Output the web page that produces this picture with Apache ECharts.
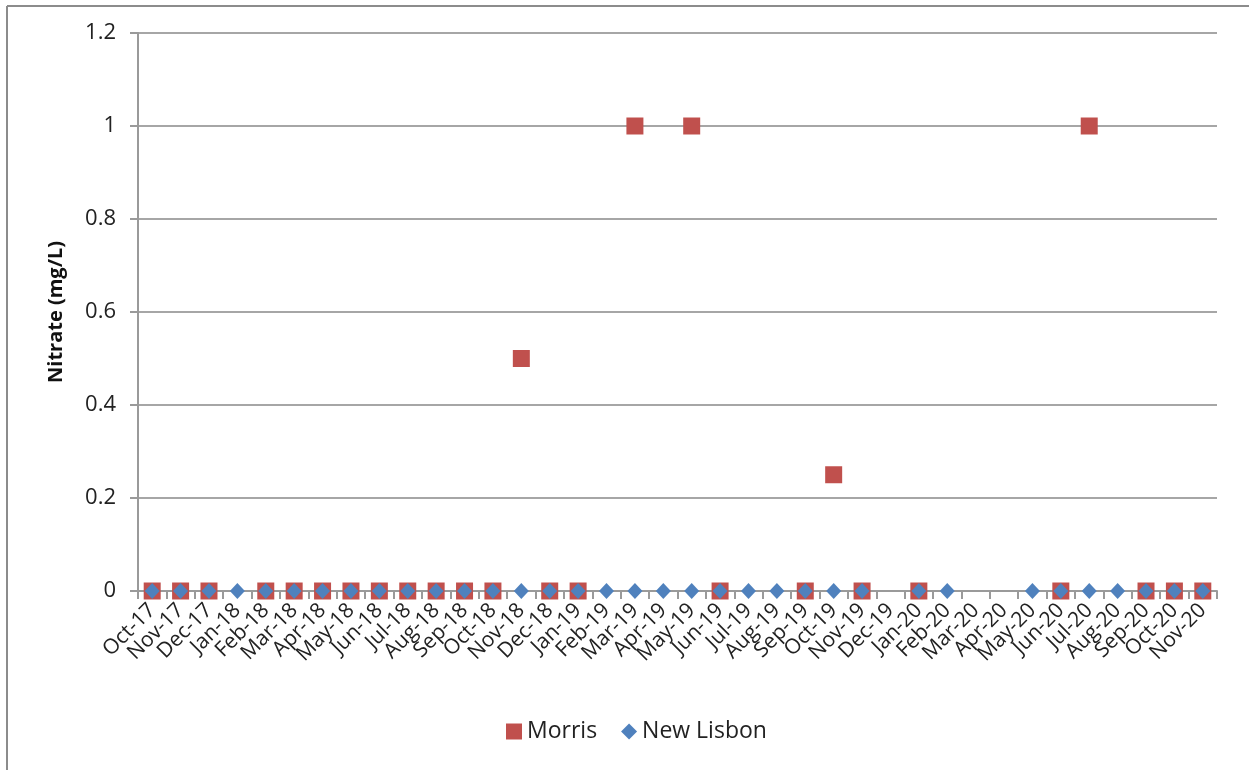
<!DOCTYPE html>
<html>
<head>
<meta charset="utf-8">
<title>Nitrate</title>
<script src="https://cdn.jsdelivr.net/npm/echarts@6/dist/echarts.min.js"></script>
<style>
  html, body { margin: 0; padding: 0; background: #fff; }
  #chart { width: 1249px; height: 770px; }
</style>
</head>
<body>
<div id="chart"></div>
<script>
// Sampling months
const months = [
  'Oct-17','Nov-17','Dec-17',
  'Jan-18','Feb-18','Mar-18','Apr-18','May-18','Jun-18','Jul-18','Aug-18','Sep-18','Oct-18','Nov-18','Dec-18',
  'Jan-19','Feb-19','Mar-19','Apr-19','May-19','Jun-19','Jul-19','Aug-19','Sep-19','Oct-19','Nov-19','Dec-19',
  'Jan-20','Feb-20','Mar-20','Apr-20','May-20','Jun-20','Jul-20','Aug-20','Sep-20','Oct-20','Nov-20'
];

// Nitrate (mg/L); null = no sample that month
const morris = [
  0, 0, 0,
  null, 0, 0, 0, 0, 0, 0, 0, 0, 0, 0.5, 0,
  0, null, 1, null, 1, 0, null, null, 0, 0.25, 0, null,
  0, null, null, null, null, 0, 1, null, 0, 0, 0
];
const newLisbon = [
  0, 0, 0,
  0, 0, 0, 0, 0, 0, 0, 0, 0, 0, 0, 0,
  0, 0, 0, 0, 0, 0, 0, 0, 0, 0, 0, null,
  0, 0, null, null, 0, 0, 0, 0, 0, 0, 0
];

const yTicks = { min: 0, max: 1.2, interval: 0.2 };

const FONT = '"Open Sans", "Liberation Sans", sans-serif';
const chart = echarts.init(document.getElementById('chart'), null, { renderer: 'canvas' });

chart.setOption({
  animation: false,
  backgroundColor: '#fff',
  graphic: [
    { type: 'line', shape: { x1: 7, y1: 6, x2: 1249, y2: 6 }, style: { stroke: '#8c8c8c', lineWidth: 2 } },
    { type: 'line', shape: { x1: 7, y1: 6, x2: 7, y2: 770 }, style: { stroke: '#8c8c8c', lineWidth: 2 } }
  ],
  grid: { left: 138, right: 32, top: 33, bottom: 179 },
  legend: {
    bottom: 22,
    left: 501,
    itemGap: 24,
    itemWidth: 16,
    itemHeight: 16,
    textStyle: { fontFamily: FONT, fontSize: 23, color: '#222' },
    data: [
      { name: 'Morris', icon: 'rect' },
      { name: 'New Lisbon', icon: 'diamond' }
    ]
  },
  xAxis: {
    type: 'category',
    data: months,
    boundaryGap: true,
    axisLine: { lineStyle: { color: '#9a9a9a', width: 2 } },
    axisTick: { show: true, length: 8, lineStyle: { color: '#9a9a9a', width: 2 } },
    axisLabel: {
      interval: 0,
      rotate: 45,
      margin: 16,
      fontFamily: FONT,
      fontSize: 21,
      color: '#222'
    },
    splitLine: { show: false }
  },
  yAxis: {
    type: 'value',
    min: yTicks.min,
    max: yTicks.max,
    interval: yTicks.interval,
    name: 'Nitrate (mg/L)',
    nameLocation: 'middle',
    nameRotate: 90,
    nameGap: 72,
    nameTextStyle: { fontFamily: FONT, fontSize: 20, fontWeight: 'bold', color: '#111' },
    axisLine: { show: true, lineStyle: { color: '#9a9a9a', width: 2 } },
    axisTick: { show: true, length: 8, lineStyle: { color: '#9a9a9a', width: 2 } },
    axisLabel: { fontFamily: FONT, fontSize: 22, color: '#222', margin: 22 },
    splitLine: { show: true, lineStyle: { color: '#a6a6a6', width: 2 } }
  },
  series: [
    {
      name: 'Morris',
      type: 'scatter',
      data: morris,
      symbol: 'rect',
      symbolSize: 17,
      itemStyle: { color: '#c0504d', opacity: 1 },
      z: 2
    },
    {
      name: 'New Lisbon',
      type: 'scatter',
      data: newLisbon,
      symbol: 'diamond',
      symbolSize: [15, 16],
      itemStyle: { color: '#4f81bd', opacity: 1 },
      z: 3
    }
  ]
});
</script>
</body>
</html>
